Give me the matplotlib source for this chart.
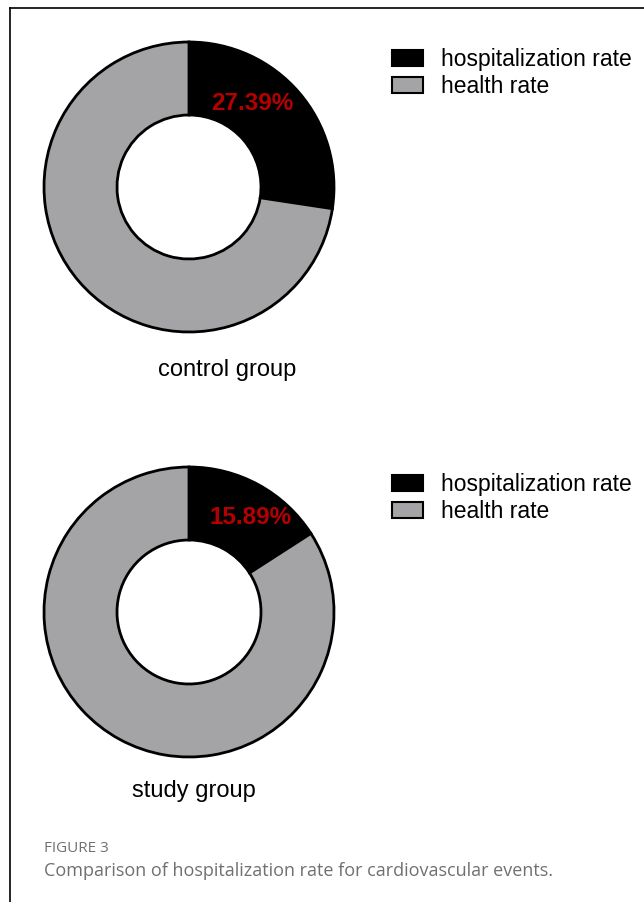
import matplotlib
matplotlib.use("Agg")
import matplotlib.pyplot as plt
from matplotlib.patches import Patch

groups = ["control group", "study group"]
hospitalization = [27.39, 15.89]
labels = ["hospitalization rate", "health rate"]
colors = ["#000000", "#a4a4a7"]

# pixel layout (y measured from top)
centers_y = [187, 612]
center_x = 189
pct_offset = [(63, 84), (62, 95)]
title_pos = [(227, 370), (194, 791)]
legend_top = [48, 473]

plt.rcParams['font.family'] = ['Liberation Sans', 'DejaVu Sans']

fig = plt.figure(figsize=(6.44, 9.02), dpi=100)
ax = fig.add_axes([0, 0, 1, 1])

H = 902
for i, g in enumerate(groups):
    vals = [hospitalization[i], 100 - hospitalization[i]]
    cy = H - centers_y[i]
    ax.pie(vals, colors=colors, startangle=90, counterclock=False,
           center=(center_x, cy), radius=145,
           wedgeprops=dict(width=73, edgecolor="black", linewidth=2))
    ax.text(center_x + pct_offset[i][0], cy + pct_offset[i][1],
            f"{hospitalization[i]:.2f}%", color="#b50000",
            fontsize=17.5, fontweight="bold", ha="center", va="center")
    ax.text(title_pos[i][0], H - title_pos[i][1], g, fontsize=17,
            ha="center", va="center")
    handles = [Patch(facecolor=c, edgecolor="black", linewidth=1.5) for c in colors]
    fig.legend(handles, labels, loc="upper left",
               bbox_to_anchor=(392 / 644, 1 - legend_top[i] / H),
               frameon=False, fontsize=16.5, borderpad=0, borderaxespad=0,
               handlelength=1.35, handleheight=0.7, handletextpad=0.78,
               labelspacing=0.17)

ax.set_xlim(0, 644)
ax.set_ylim(0, H)
ax.set_aspect("auto")
ax.axis("off")

# page frame
ax.plot([10, 10], [0, H - 8], color="black", linewidth=1.2)
ax.plot([10, 644], [H - 8, H - 8], color="black", linewidth=1.2)

ax.text(44, H - 848, "FIGURE 3", fontsize=11, color="#707070",
        family=["Open Sans", "DejaVu Sans"], va="center")
ax.text(44, H - 871, "Comparison of hospitalization rate for cardiovascular events.",
        fontsize=13, color="#707070", family=["Open Sans", "DejaVu Sans"], va="center")

fig.savefig("out.png", dpi=100)
